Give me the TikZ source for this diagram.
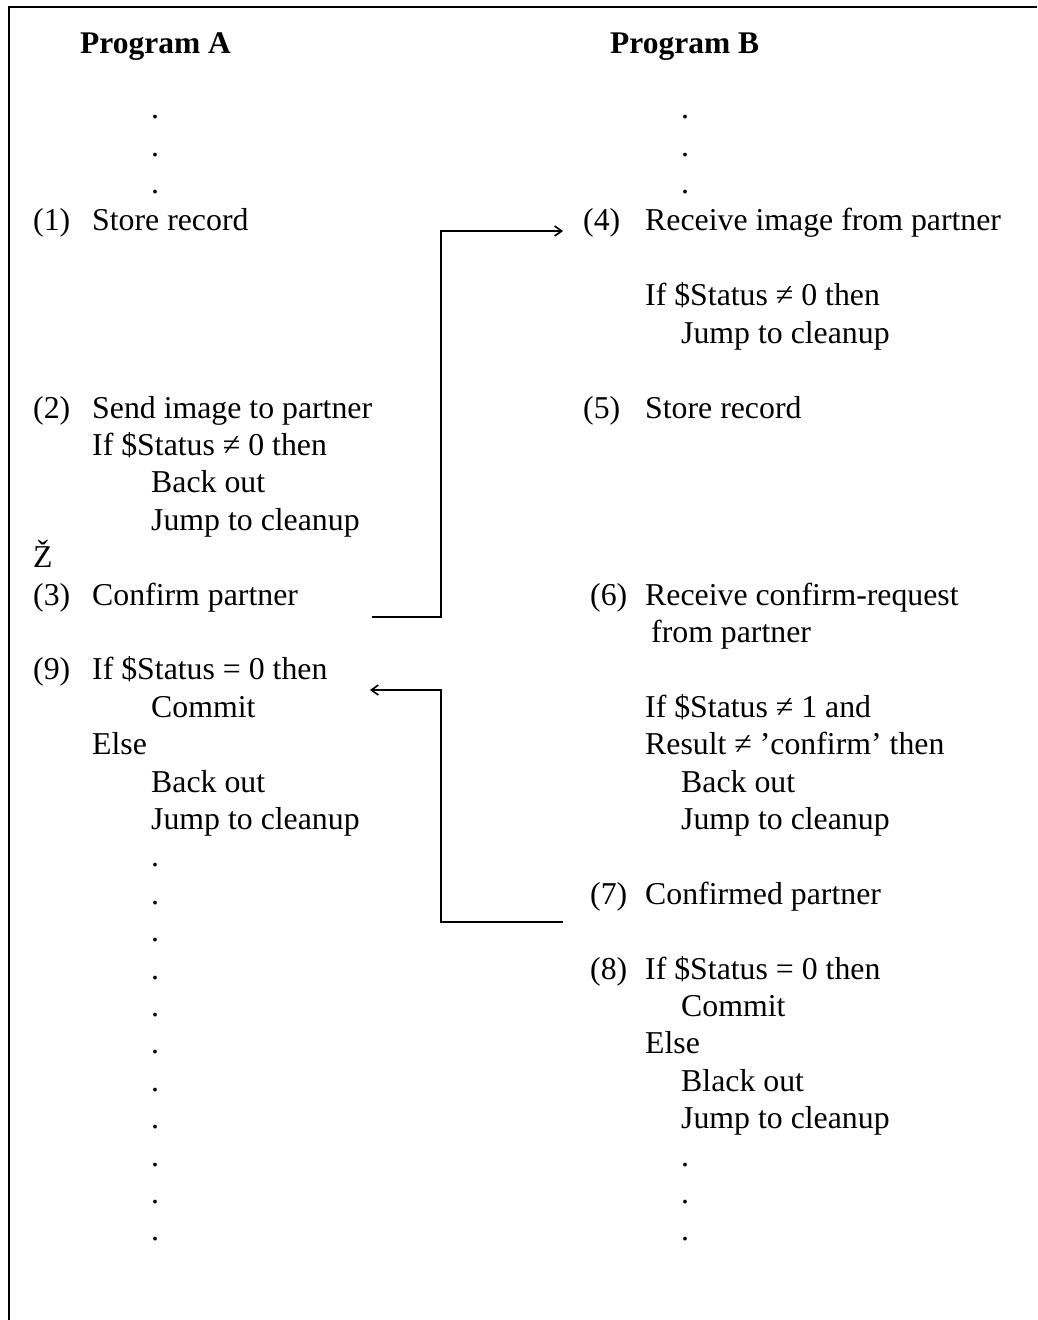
\documentclass[tikz,border=0pt]{standalone}
\usepackage{fontspec}
\setmainfont{Liberation Serif}
\usetikzlibrary{arrows.meta}

\begin{document}
\begin{tikzpicture}[
    x=1bp, y=-1bp,
    txt/.style={anchor=base west, inner sep=0pt,
                font=\fontsize{31.8bp}{37.4bp}\selectfont},
    head/.style={txt, font=\fontsize{31.5bp}{37.4bp}\selectfont\bfseries},
    arrow/.style={-{Straight Barb[length=7bp, width=10bp]}, line width=1.6bp},
    frame/.style={line width=2.5bp}
]
\useasboundingbox (0,0) rectangle (1037,1320);
\draw[frame] (9,1320) |- (1037,7);

% Program A
\node[head] (ha) at (80,54) {Program A};
\foreach \k in {-3,-2,-1}
  \node[txt] (atop\k) at (151,{231+37.4*\k}) {.};
\node[txt] (a1n) at (33,231)   {(1)};
\node[txt] (a1)  at (92,231)   {Store record};
\node[txt] (a2n) at (33,418)   {(2)};
\node[txt] (a2)  at (92,418)   {Send image to partner};
\node[txt] (a2b) at (92,455.4) {If \$Status ≠ 0 then};
\node[txt] (a2c) at (151,492.8){Back out};
\node[txt] (a2d) at (151,530.2){Jump to cleanup};
\node[txt] (az)  at (33,567.6) {Ž};
\node[txt] (a3n) at (33,605)   {(3)};
\node[txt] (a3)  at (92,605)   {Confirm partner};
\node[txt] (a9n) at (33,679.8) {(9)};
\node[txt] (a9)  at (92,679.8) {If \$Status = 0 then};
\node[txt] (a9b) at (151,717.2){Commit};
\node[txt] (a9c) at (92,754.6) {Else};
\node[txt] (a9d) at (151,792)  {Back out};
\node[txt] (a9e) at (151,829.4){Jump to cleanup};
\foreach \k in {17,...,27}
  \node[txt] (abot\k) at (151,{231+37.4*\k}) {.};

% Program B
\node[head] (hb) at (610,54) {Program B};
\foreach \k in {-3,-2,-1}
  \node[txt] (btop\k) at (681,{231+37.4*\k}) {.};
\node[txt] (b4n) at (583,231)   {(4)};
\node[txt] (b4)  at (645,231)   {Receive image from partner};
\node[txt] (b4b) at (645,305.8) {If \$Status ≠ 0 then};
\node[txt] (b4c) at (681,343.2) {Jump to cleanup};
\node[txt] (b5n) at (583,418)   {(5)};
\node[txt] (b5)  at (645,418)   {Store record};
\node[txt] (b6n) at (590,605)   {(6)};
\node[txt] (b6)  at (645,605)   {Receive confirm-request};
\node[txt] (b6b) at (651,642.4) {from partner};
\node[txt] (b6c) at (645,717.2) {If \$Status ≠ 1 and};
\node[txt] (b6d) at (645,754.6) {Result ≠ ’confirm’ then};
\node[txt] (b6e) at (681,792)   {Back out};
\node[txt] (b6f) at (681,829.4) {Jump to cleanup};
\node[txt] (b7n) at (590,904.2) {(7)};
\node[txt] (b7)  at (645,904.2) {Confirmed partner};
\node[txt] (b8n) at (590,979)   {(8)};
\node[txt] (b8)  at (645,979)   {If \$Status = 0 then};
\node[txt] (b8b) at (681,1016.4){Commit};
\node[txt] (b8c) at (645,1053.8){Else};
\node[txt] (b8d) at (681,1091.2){Black out};
\node[txt] (b8e) at (681,1128.6){Jump to cleanup};
\foreach \k in {25,26,27}
  \node[txt] (bbot\k) at (681,{231+37.4*\k}) {.};

% connectors
\coordinate (spine) at (441,0);
\coordinate (a3out) at (372,617);
\coordinate (b4in)  at ([xshift=-20bp]b4n.base west);
\coordinate (b7out) at (563,922);
\coordinate (a9in)  at (370,690);
\draw[arrow] (a3out) -| (spine |- b4in) -- (b4in);
\draw[arrow] (b7out) -| (spine |- a9in) -- (a9in);
\end{tikzpicture}
\end{document}
